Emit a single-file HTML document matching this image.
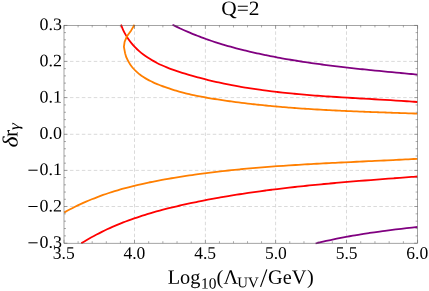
<!DOCTYPE html><html><head><meta charset="utf-8"><style>html,body{margin:0;padding:0;background:#fff}svg{display:block}text{font-family:"Liberation Serif",serif;fill:#000;text-rendering:geometricPrecision}svg{will-change:transform}</style></head><body>
<svg width="429" height="291" viewBox="0 0 429 291">
<rect width="429" height="291" fill="#fff"/>
<g stroke="#d0d0d0" stroke-width="0.8" stroke-dasharray="3.5 2.45" fill="none"><line x1="134.50" y1="25.40" x2="134.50" y2="243.20"/><line x1="205.40" y1="25.40" x2="205.40" y2="243.20"/><line x1="275.60" y1="25.40" x2="275.60" y2="243.20"/><line x1="346.50" y1="25.40" x2="346.50" y2="243.20"/><line x1="64.00" y1="61.40" x2="417.60" y2="61.40"/><line x1="64.00" y1="97.60" x2="417.60" y2="97.60"/><line x1="64.00" y1="134.30" x2="417.60" y2="134.30"/><line x1="64.00" y1="170.40" x2="417.60" y2="170.40"/><line x1="64.00" y1="206.50" x2="417.60" y2="206.50"/></g>
<g fill="none" stroke-width="1.8" stroke-linejoin="round">
<path d="M172.50 24.70 C173.14 25.02 175.04 25.98 176.32 26.61 C177.60 27.23 178.89 27.85 180.18 28.45 C181.46 29.05 182.76 29.64 184.05 30.22 C185.35 30.80 186.65 31.37 187.95 31.93 C189.25 32.50 190.56 33.05 191.87 33.59 C193.18 34.13 194.50 34.66 195.81 35.18 C197.13 35.70 198.45 36.21 199.78 36.71 C201.10 37.22 202.43 37.71 203.76 38.20 C205.09 38.68 206.43 39.16 207.76 39.62 C209.10 40.09 210.44 40.55 211.78 41.00 C213.12 41.45 214.47 41.89 215.82 42.33 C217.17 42.76 218.52 43.19 219.87 43.60 C221.23 44.02 222.58 44.43 223.94 44.84 C225.30 45.24 226.66 45.64 228.02 46.03 C229.39 46.41 230.75 46.80 232.12 47.17 C233.49 47.55 234.85 47.92 236.23 48.28 C237.60 48.64 238.97 49.00 240.35 49.35 C241.72 49.70 243.10 50.04 244.48 50.38 C245.86 50.71 247.24 51.05 248.62 51.37 C250.00 51.70 251.38 52.02 252.77 52.34 C254.15 52.65 255.54 52.96 256.92 53.27 C258.31 53.57 259.70 53.87 261.09 54.17 C262.48 54.47 263.87 54.76 265.26 55.04 C266.65 55.33 268.04 55.61 269.44 55.89 C270.83 56.17 272.22 56.44 273.62 56.71 C275.02 56.98 276.41 57.25 277.81 57.51 C279.21 57.77 280.60 58.02 282.00 58.28 C283.40 58.53 284.80 58.78 286.20 59.02 C287.60 59.27 289.01 59.51 290.41 59.75 C291.81 59.98 293.21 60.22 294.62 60.45 C296.02 60.68 297.43 60.90 298.83 61.12 C300.24 61.35 301.64 61.57 303.05 61.78 C304.46 62.00 305.86 62.21 307.27 62.42 C308.68 62.63 310.09 62.84 311.49 63.04 C312.90 63.24 314.31 63.44 315.72 63.64 C317.13 63.84 318.54 64.03 319.95 64.22 C321.36 64.41 322.78 64.60 324.19 64.79 C325.60 64.97 327.01 65.16 328.42 65.34 C329.83 65.52 331.25 65.69 332.66 65.87 C334.07 66.05 335.49 66.22 336.90 66.39 C338.31 66.56 339.73 66.73 341.14 66.90 C342.55 67.06 343.97 67.23 345.38 67.39 C346.80 67.55 348.21 67.71 349.63 67.87 C351.04 68.03 352.45 68.19 353.87 68.34 C355.28 68.50 356.70 68.65 358.11 68.80 C359.53 68.95 360.94 69.10 362.36 69.25 C363.77 69.40 365.19 69.55 366.60 69.69 C368.02 69.84 369.43 69.98 370.84 70.13 C372.26 70.27 373.67 70.41 375.09 70.55 C376.50 70.69 377.91 70.83 379.33 70.97 C380.74 71.11 382.15 71.25 383.57 71.39 C384.98 71.53 386.39 71.66 387.80 71.80 C389.22 71.93 390.63 72.07 392.04 72.20 C393.45 72.34 394.86 72.47 396.27 72.61 C397.69 72.74 399.10 72.87 400.51 73.01 C401.92 73.14 403.33 73.27 404.73 73.41 C406.14 73.54 407.55 73.67 408.96 73.80 C410.37 73.94 411.77 74.07 413.18 74.20 C414.59 74.33 416.70 74.53 417.40 74.60" stroke="#800080"/>
<path d="M315.60 243.50 C316.48 243.29 319.12 242.63 320.88 242.22 C322.65 241.80 324.41 241.39 326.18 240.99 C327.94 240.60 329.71 240.21 331.48 239.83 C333.25 239.45 335.03 239.08 336.80 238.72 C338.57 238.36 340.35 238.01 342.13 237.66 C343.90 237.32 345.68 236.98 347.46 236.66 C349.24 236.33 351.03 236.01 352.81 235.70 C354.59 235.38 356.38 235.08 358.16 234.78 C359.95 234.49 361.74 234.20 363.52 233.91 C365.31 233.63 367.10 233.35 368.89 233.08 C370.68 232.81 372.47 232.55 374.27 232.29 C376.06 232.03 377.85 231.78 379.64 231.53 C381.44 231.28 383.23 231.04 385.03 230.81 C386.82 230.57 388.62 230.34 390.42 230.11 C392.21 229.88 394.01 229.66 395.81 229.44 C397.61 229.22 399.41 229.01 401.20 228.80 C403.00 228.59 404.80 228.38 406.60 228.18 C408.40 227.98 410.20 227.78 412.00 227.58 C413.80 227.38 416.50 227.10 417.40 227.00" stroke="#800080"/>
<path d="M121.00 24.60 C121.33 25.43 122.23 27.97 122.97 29.61 C123.70 31.25 124.53 32.85 125.42 34.42 C126.32 35.98 127.29 37.51 128.32 38.99 C129.36 40.48 130.46 41.92 131.62 43.32 C132.77 44.71 133.99 46.06 135.25 47.36 C136.51 48.66 137.83 49.91 139.17 51.10 C140.52 52.29 141.92 53.43 143.34 54.51 C144.77 55.60 146.23 56.62 147.72 57.60 C149.20 58.59 150.73 59.51 152.27 60.40 C153.82 61.29 155.39 62.14 156.99 62.94 C158.58 63.75 160.21 64.52 161.84 65.25 C163.48 65.99 165.14 66.69 166.81 67.36 C168.48 68.03 170.17 68.67 171.86 69.30 C173.56 69.92 175.27 70.51 176.98 71.09 C178.69 71.67 180.42 72.23 182.14 72.78 C183.87 73.32 185.59 73.85 187.32 74.38 C189.05 74.90 190.79 75.41 192.52 75.90 C194.25 76.40 195.99 76.88 197.73 77.36 C199.47 77.83 201.21 78.29 202.96 78.74 C204.70 79.19 206.45 79.63 208.19 80.06 C209.94 80.48 211.69 80.90 213.44 81.31 C215.20 81.71 216.95 82.11 218.71 82.49 C220.46 82.88 222.22 83.25 223.98 83.62 C225.74 83.98 227.50 84.34 229.27 84.69 C231.03 85.03 232.80 85.37 234.56 85.70 C236.33 86.02 238.10 86.34 239.87 86.65 C241.64 86.96 243.41 87.26 245.19 87.55 C246.96 87.85 248.74 88.13 250.51 88.41 C252.29 88.68 254.07 88.95 255.85 89.21 C257.63 89.47 259.41 89.72 261.19 89.97 C262.97 90.22 264.75 90.45 266.54 90.68 C268.32 90.92 270.11 91.14 271.90 91.36 C273.68 91.58 275.47 91.79 277.26 91.99 C279.05 92.20 280.84 92.40 282.63 92.59 C284.42 92.78 286.21 92.97 288.00 93.15 C289.80 93.34 291.59 93.51 293.39 93.68 C295.18 93.86 296.97 94.02 298.77 94.18 C300.57 94.35 302.36 94.50 304.16 94.66 C305.96 94.81 307.76 94.96 309.55 95.10 C311.35 95.25 313.15 95.39 314.95 95.53 C316.75 95.66 318.55 95.80 320.35 95.93 C322.15 96.06 323.95 96.18 325.75 96.31 C327.55 96.43 329.35 96.55 331.15 96.67 C332.95 96.79 334.75 96.91 336.56 97.02 C338.36 97.14 340.16 97.25 341.96 97.36 C343.76 97.47 345.56 97.58 347.36 97.69 C349.17 97.80 350.97 97.90 352.77 98.01 C354.57 98.11 356.37 98.22 358.17 98.32 C359.97 98.42 361.77 98.53 363.57 98.63 C365.37 98.73 367.17 98.83 368.97 98.94 C370.77 99.04 372.57 99.14 374.37 99.25 C376.17 99.35 377.97 99.45 379.76 99.56 C381.56 99.66 383.36 99.77 385.15 99.87 C386.95 99.98 388.75 100.09 390.54 100.20 C392.34 100.31 394.13 100.42 395.92 100.53 C397.72 100.64 399.51 100.76 401.30 100.87 C403.09 100.99 404.88 101.11 406.67 101.23 C408.46 101.36 410.25 101.48 412.04 101.61 C413.83 101.74 416.51 101.94 417.40 102.00" stroke="#ff0000"/>
<path d="M81.30 243.30 C82.14 242.78 84.65 241.22 86.34 240.21 C88.03 239.21 89.74 238.23 91.45 237.28 C93.16 236.32 94.88 235.39 96.61 234.48 C98.34 233.57 100.08 232.69 101.83 231.82 C103.58 230.96 105.34 230.11 107.10 229.29 C108.87 228.47 110.64 227.67 112.42 226.89 C114.21 226.11 116.00 225.35 117.79 224.60 C119.59 223.86 121.40 223.14 123.21 222.43 C125.02 221.73 126.84 221.04 128.66 220.37 C130.49 219.70 132.32 219.05 134.16 218.41 C135.99 217.77 137.84 217.15 139.69 216.55 C141.54 215.94 143.39 215.35 145.25 214.77 C147.11 214.20 148.98 213.64 150.84 213.09 C152.71 212.54 154.59 212.01 156.47 211.48 C158.34 210.96 160.23 210.45 162.11 209.95 C164.00 209.45 165.89 208.97 167.78 208.49 C169.67 208.01 171.57 207.55 173.47 207.09 C175.36 206.63 177.27 206.19 179.17 205.75 C181.07 205.31 182.98 204.88 184.88 204.46 C186.79 204.04 188.70 203.62 190.61 203.22 C192.52 202.81 194.43 202.41 196.35 202.02 C198.26 201.62 200.17 201.24 202.09 200.86 C204.01 200.48 205.92 200.10 207.84 199.74 C209.76 199.37 211.68 199.01 213.60 198.66 C215.52 198.30 217.44 197.96 219.37 197.61 C221.29 197.27 223.21 196.94 225.14 196.61 C227.07 196.28 228.99 195.96 230.92 195.64 C232.85 195.32 234.78 195.01 236.71 194.70 C238.64 194.40 240.57 194.10 242.50 193.80 C244.43 193.51 246.36 193.22 248.30 192.93 C250.23 192.65 252.16 192.37 254.10 192.09 C256.03 191.82 257.97 191.55 259.91 191.28 C261.84 191.02 263.78 190.76 265.72 190.50 C267.66 190.25 269.60 189.99 271.53 189.75 C273.47 189.50 275.41 189.26 277.36 189.02 C279.30 188.78 281.24 188.55 283.18 188.32 C285.12 188.09 287.06 187.86 289.01 187.64 C290.95 187.42 292.89 187.20 294.84 186.99 C296.78 186.77 298.73 186.56 300.67 186.35 C302.62 186.15 304.56 185.94 306.51 185.74 C308.45 185.54 310.40 185.34 312.34 185.15 C314.29 184.95 316.24 184.76 318.18 184.57 C320.13 184.39 322.08 184.20 324.03 184.02 C325.97 183.83 327.92 183.65 329.87 183.48 C331.81 183.30 333.76 183.12 335.71 182.95 C337.66 182.78 339.60 182.60 341.55 182.44 C343.50 182.27 345.45 182.10 347.40 181.94 C349.34 181.77 351.29 181.61 353.24 181.45 C355.19 181.29 357.13 181.13 359.08 180.97 C361.03 180.81 362.98 180.65 364.92 180.50 C366.87 180.34 368.82 180.19 370.76 180.04 C372.71 179.89 374.65 179.73 376.60 179.58 C378.55 179.43 380.49 179.28 382.44 179.14 C384.38 178.99 386.33 178.84 388.27 178.69 C390.22 178.54 392.16 178.40 394.10 178.25 C396.05 178.10 397.99 177.96 399.93 177.81 C401.88 177.67 403.82 177.52 405.76 177.37 C407.70 177.23 409.64 177.08 411.58 176.94 C413.52 176.79 416.43 176.57 417.40 176.50" stroke="#ff0000"/>
<path d="M134.50 24.80 L131.20 30.40 L126.80 36.60 L124.60 41.80 L123.90 46.90 L125.10 53.20 L126.20 57.00 L128.30 61.30 L128.30 61.30 C128.57 61.75 129.34 63.11 129.90 63.97 C130.46 64.83 131.05 65.66 131.66 66.46 C132.28 67.26 132.92 68.03 133.59 68.77 C134.25 69.52 134.94 70.23 135.65 70.93 C136.37 71.62 137.10 72.28 137.86 72.93 C138.61 73.57 139.39 74.19 140.18 74.79 C140.97 75.38 141.78 75.96 142.61 76.51 C143.44 77.07 144.28 77.60 145.14 78.12 C146.00 78.64 146.87 79.14 147.75 79.62 C148.64 80.10 149.54 80.57 150.44 81.02 C151.35 81.47 152.27 81.90 153.19 82.33 C154.12 82.75 155.05 83.16 155.99 83.56 C156.93 83.96 157.88 84.34 158.83 84.72 C159.78 85.10 160.74 85.46 161.70 85.82 C162.66 86.18 163.62 86.54 164.58 86.88 C165.54 87.23 166.50 87.57 167.46 87.90 C168.43 88.23 169.39 88.55 170.36 88.87 C171.32 89.19 172.29 89.50 173.26 89.80 C174.23 90.11 175.20 90.41 176.17 90.70 C177.14 90.99 178.11 91.27 179.09 91.55 C180.06 91.82 181.04 92.09 182.02 92.36 C182.99 92.62 183.97 92.87 184.95 93.12 C185.93 93.37 186.91 93.61 187.90 93.85 C188.88 94.09 189.86 94.32 190.85 94.54 C191.83 94.76 192.82 94.98 193.81 95.19 C194.80 95.41 195.79 95.61 196.78 95.82 C197.77 96.02 198.76 96.21 199.75 96.41 C200.74 96.60 201.73 96.79 202.73 96.97 C203.72 97.16 204.71 97.34 205.71 97.51 C206.70 97.69 207.70 97.86 208.70 98.03 C209.69 98.20 210.69 98.36 211.69 98.53 C212.68 98.69 213.68 98.85 214.68 99.01 C215.68 99.17 216.68 99.33 217.68 99.48 C218.68 99.63 219.67 99.79 220.67 99.94 C221.67 100.09 222.67 100.23 223.67 100.38 C224.67 100.53 225.67 100.67 226.67 100.81 C227.68 100.96 228.68 101.10 229.68 101.24 C230.68 101.38 231.68 101.51 232.68 101.65 C233.68 101.78 234.69 101.92 235.69 102.05 C236.69 102.18 237.69 102.31 238.70 102.44 C239.70 102.57 240.70 102.70 241.70 102.82 C242.71 102.95 243.71 103.07 244.71 103.19 C245.72 103.31 246.72 103.43 247.73 103.55 C248.73 103.67 249.73 103.79 250.74 103.90 C251.74 104.02 252.75 104.13 253.75 104.24 C254.76 104.35 255.76 104.46 256.77 104.57 C257.78 104.68 258.78 104.79 259.79 104.89 C260.79 105.00 261.80 105.10 262.81 105.21 C263.81 105.31 264.82 105.41 265.82 105.51 C266.83 105.61 267.84 105.71 268.84 105.81 C269.85 105.90 270.86 106.00 271.87 106.09 C272.87 106.19 273.88 106.28 274.89 106.37 C275.90 106.46 276.90 106.55 277.91 106.64 C278.92 106.73 279.93 106.82 280.94 106.90 C281.95 106.99 282.95 107.07 283.96 107.16 C284.97 107.24 285.98 107.32 286.99 107.40 C288.00 107.49 289.01 107.57 290.02 107.64 C291.03 107.72 292.04 107.80 293.04 107.88 C294.05 107.95 295.06 108.03 296.07 108.10 C297.08 108.18 298.09 108.25 299.10 108.32 C300.11 108.39 301.12 108.46 302.13 108.53 C303.14 108.60 304.15 108.67 305.16 108.74 C306.17 108.81 307.19 108.87 308.20 108.94 C309.21 109.01 310.22 109.07 311.23 109.13 C312.24 109.20 313.25 109.26 314.26 109.32 C315.27 109.38 316.28 109.44 317.29 109.50 C318.31 109.56 319.32 109.62 320.33 109.68 C321.34 109.74 322.35 109.80 323.36 109.85 C324.37 109.91 325.38 109.96 326.40 110.02 C327.41 110.07 328.42 110.13 329.43 110.18 C330.44 110.23 331.45 110.29 332.47 110.34 C333.48 110.39 334.49 110.44 335.50 110.49 C336.51 110.54 337.52 110.59 338.54 110.64 C339.55 110.69 340.56 110.73 341.57 110.78 C342.58 110.83 343.60 110.88 344.61 110.92 C345.62 110.97 346.63 111.01 347.64 111.06 C348.66 111.10 349.67 111.15 350.68 111.19 C351.69 111.24 352.70 111.28 353.72 111.32 C354.73 111.36 355.74 111.41 356.75 111.45 C357.76 111.49 358.77 111.53 359.79 111.57 C360.80 111.61 361.81 111.65 362.82 111.69 C363.83 111.73 364.85 111.77 365.86 111.81 C366.87 111.85 367.88 111.89 368.89 111.92 C369.90 111.96 370.92 112.00 371.93 112.04 C372.94 112.08 373.95 112.11 374.96 112.15 C375.97 112.19 376.99 112.22 378.00 112.26 C379.01 112.30 380.02 112.33 381.03 112.37 C382.04 112.40 383.05 112.44 384.07 112.47 C385.08 112.51 386.09 112.54 387.10 112.58 C388.11 112.61 389.12 112.65 390.13 112.68 C391.14 112.72 392.15 112.75 393.16 112.79 C394.17 112.82 395.19 112.85 396.20 112.89 C397.21 112.92 398.22 112.96 399.23 112.99 C400.24 113.02 401.25 113.06 402.26 113.09 C403.27 113.12 404.28 113.16 405.29 113.19 C406.30 113.23 407.31 113.26 408.32 113.29 C409.33 113.33 410.34 113.36 411.35 113.40 C412.35 113.43 413.36 113.46 414.37 113.50 C415.38 113.53 416.90 113.58 417.40 113.60" stroke="#ff7f00"/>
<path d="M64.20 212.50 C65.10 212.00 67.78 210.49 69.59 209.53 C71.40 208.57 73.22 207.64 75.05 206.73 C76.87 205.83 78.71 204.95 80.56 204.09 C82.40 203.24 84.26 202.41 86.12 201.60 C87.98 200.79 89.86 200.01 91.74 199.25 C93.62 198.49 95.50 197.76 97.40 197.04 C99.30 196.33 101.20 195.63 103.11 194.96 C105.02 194.29 106.93 193.64 108.86 193.01 C110.78 192.37 112.71 191.76 114.65 191.17 C116.58 190.58 118.53 190.00 120.47 189.44 C122.42 188.89 124.37 188.35 126.33 187.82 C128.29 187.30 130.25 186.79 132.22 186.30 C134.19 185.81 136.16 185.33 138.14 184.87 C140.11 184.40 142.09 183.96 144.08 183.52 C146.06 183.08 148.05 182.66 150.04 182.25 C152.03 181.84 154.03 181.44 156.02 181.05 C158.02 180.67 160.02 180.29 162.02 179.92 C164.02 179.56 166.03 179.20 168.03 178.85 C170.04 178.50 172.04 178.16 174.05 177.83 C176.06 177.50 178.07 177.17 180.08 176.86 C182.09 176.54 184.10 176.23 186.11 175.92 C188.13 175.62 190.14 175.33 192.16 175.04 C194.17 174.75 196.19 174.46 198.20 174.19 C200.22 173.91 202.24 173.64 204.25 173.38 C206.27 173.11 208.29 172.86 210.31 172.61 C212.33 172.36 214.35 172.11 216.37 171.87 C218.40 171.63 220.42 171.40 222.44 171.17 C224.46 170.94 226.49 170.72 228.51 170.50 C230.54 170.29 232.56 170.08 234.59 169.87 C236.61 169.66 238.64 169.46 240.67 169.27 C242.70 169.07 244.72 168.88 246.75 168.69 C248.78 168.50 250.81 168.32 252.84 168.15 C254.87 167.97 256.90 167.79 258.93 167.63 C260.96 167.46 262.99 167.29 265.02 167.13 C267.05 166.97 269.08 166.81 271.12 166.66 C273.15 166.51 275.18 166.36 277.21 166.21 C279.25 166.06 281.28 165.92 283.31 165.78 C285.35 165.64 287.38 165.51 289.41 165.37 C291.45 165.24 293.48 165.11 295.51 164.98 C297.55 164.86 299.58 164.73 301.62 164.61 C303.65 164.49 305.69 164.37 307.72 164.25 C309.76 164.13 311.79 164.02 313.83 163.91 C315.86 163.79 317.90 163.68 319.93 163.57 C321.97 163.46 324.00 163.36 326.04 163.25 C328.07 163.15 330.11 163.04 332.14 162.94 C334.17 162.84 336.21 162.74 338.24 162.64 C340.28 162.54 342.31 162.44 344.35 162.34 C346.38 162.24 348.41 162.15 350.45 162.05 C352.48 161.95 354.51 161.86 356.55 161.76 C358.58 161.67 360.61 161.57 362.64 161.48 C364.68 161.38 366.71 161.29 368.74 161.19 C370.77 161.10 372.80 161.00 374.83 160.91 C376.87 160.81 378.90 160.72 380.93 160.62 C382.96 160.53 384.98 160.43 387.01 160.34 C389.04 160.24 391.07 160.14 393.10 160.04 C395.13 159.94 397.15 159.84 399.18 159.74 C401.21 159.64 403.23 159.54 405.26 159.44 C407.28 159.33 409.31 159.23 411.33 159.12 C413.35 159.02 416.39 158.85 417.40 158.80" stroke="#ff7f00"/>
</g>
<path d="M64.00 243.20v-3.40M64.00 25.40v3.40M78.10 243.20v-2.00M78.10 25.40v2.00M92.20 243.20v-2.00M92.20 25.40v2.00M106.30 243.20v-2.00M106.30 25.40v2.00M120.40 243.20v-2.00M120.40 25.40v2.00M134.50 243.20v-3.40M134.50 25.40v3.40M148.68 243.20v-2.00M148.68 25.40v2.00M162.86 243.20v-2.00M162.86 25.40v2.00M177.04 243.20v-2.00M177.04 25.40v2.00M191.22 243.20v-2.00M191.22 25.40v2.00M205.40 243.20v-3.40M205.40 25.40v3.40M219.44 243.20v-2.00M219.44 25.40v2.00M233.48 243.20v-2.00M233.48 25.40v2.00M247.52 243.20v-2.00M247.52 25.40v2.00M261.56 243.20v-2.00M261.56 25.40v2.00M275.60 243.20v-3.40M275.60 25.40v3.40M289.78 243.20v-2.00M289.78 25.40v2.00M303.96 243.20v-2.00M303.96 25.40v2.00M318.14 243.20v-2.00M318.14 25.40v2.00M332.32 243.20v-2.00M332.32 25.40v2.00M346.50 243.20v-3.40M346.50 25.40v3.40M360.72 243.20v-2.00M360.72 25.40v2.00M374.94 243.20v-2.00M374.94 25.40v2.00M389.16 243.20v-2.00M389.16 25.40v2.00M403.38 243.20v-2.00M403.38 25.40v2.00M417.60 243.20v-3.40M417.60 25.40v3.40M64.00 25.40h3.40M417.60 25.40h-3.40M64.00 32.60h2.00M417.60 32.60h-2.00M64.00 39.80h2.00M417.60 39.80h-2.00M64.00 47.00h2.00M417.60 47.00h-2.00M64.00 54.20h2.00M417.60 54.20h-2.00M64.00 61.40h3.40M417.60 61.40h-3.40M64.00 68.64h2.00M417.60 68.64h-2.00M64.00 75.88h2.00M417.60 75.88h-2.00M64.00 83.12h2.00M417.60 83.12h-2.00M64.00 90.36h2.00M417.60 90.36h-2.00M64.00 97.60h3.40M417.60 97.60h-3.40M64.00 104.94h2.00M417.60 104.94h-2.00M64.00 112.28h2.00M417.60 112.28h-2.00M64.00 119.62h2.00M417.60 119.62h-2.00M64.00 126.96h2.00M417.60 126.96h-2.00M64.00 134.30h3.40M417.60 134.30h-3.40M64.00 141.52h2.00M417.60 141.52h-2.00M64.00 148.74h2.00M417.60 148.74h-2.00M64.00 155.96h2.00M417.60 155.96h-2.00M64.00 163.18h2.00M417.60 163.18h-2.00M64.00 170.40h3.40M417.60 170.40h-3.40M64.00 177.62h2.00M417.60 177.62h-2.00M64.00 184.84h2.00M417.60 184.84h-2.00M64.00 192.06h2.00M417.60 192.06h-2.00M64.00 199.28h2.00M417.60 199.28h-2.00M64.00 206.50h3.40M417.60 206.50h-3.40M64.00 213.84h2.00M417.60 213.84h-2.00M64.00 221.18h2.00M417.60 221.18h-2.00M64.00 228.52h2.00M417.60 228.52h-2.00M64.00 235.86h2.00M417.60 235.86h-2.00M64.00 243.20h3.40M417.60 243.20h-3.40" stroke="#5a5a5a" stroke-width="0.5" fill="none"/>
<rect x="64.00" y="25.40" width="353.60" height="217.80" fill="none" stroke="#5a5a5a" stroke-width="0.55"/>
<text x="52.75" y="258.7" transform="rotate(0.05 64.00 258.7)" font-size="17.5" textLength="21.9" lengthAdjust="spacingAndGlyphs">3.5</text>
<text x="123.47" y="258.7" transform="rotate(0.05 134.72 258.7)" font-size="17.5" textLength="21.9" lengthAdjust="spacingAndGlyphs">4.0</text>
<text x="194.19" y="258.7" transform="rotate(0.05 205.44 258.7)" font-size="17.5" textLength="21.9" lengthAdjust="spacingAndGlyphs">4.5</text>
<text x="264.91" y="258.7" transform="rotate(0.05 276.16 258.7)" font-size="17.5" textLength="21.9" lengthAdjust="spacingAndGlyphs">5.0</text>
<text x="335.63" y="258.7" transform="rotate(0.05 346.88 258.7)" font-size="17.5" textLength="21.9" lengthAdjust="spacingAndGlyphs">5.5</text>
<text x="406.35" y="258.7" transform="rotate(0.05 417.60 258.7)" font-size="17.5" textLength="21.9" lengthAdjust="spacingAndGlyphs">6.0</text>
<text x="39.55" y="29.90" transform="rotate(0.05 50 29.90)" font-size="17.5" textLength="22.4" lengthAdjust="spacingAndGlyphs">0.3</text>
<text x="39.55" y="66.20" transform="rotate(0.05 50 66.20)" font-size="17.5" textLength="22.4" lengthAdjust="spacingAndGlyphs">0.2</text>
<text x="39.55" y="102.50" transform="rotate(0.05 50 102.50)" font-size="17.5" textLength="22.4" lengthAdjust="spacingAndGlyphs">0.1</text>
<text x="39.55" y="138.80" transform="rotate(0.05 50 138.80)" font-size="17.5" textLength="22.4" lengthAdjust="spacingAndGlyphs">0.0</text>
<text x="39.55" y="175.10" transform="rotate(0.05 50 175.10)" font-size="17.5" textLength="22.4" lengthAdjust="spacingAndGlyphs">0.1</text>
<line x1="28.4" x2="37.6" y1="170.20" y2="170.20" stroke="#000" stroke-width="1.05"/>
<text x="39.55" y="211.40" transform="rotate(0.05 50 211.40)" font-size="17.5" textLength="22.4" lengthAdjust="spacingAndGlyphs">0.2</text>
<line x1="28.4" x2="37.6" y1="206.50" y2="206.50" stroke="#000" stroke-width="1.05"/>
<text x="39.55" y="247.70" transform="rotate(0.05 50 247.70)" font-size="17.5" textLength="22.4" lengthAdjust="spacingAndGlyphs">0.3</text>
<line x1="28.4" x2="37.6" y1="242.80" y2="242.80" stroke="#000" stroke-width="1.05"/>
<text x="221.3" y="14.9" transform="rotate(0.05 240 14.9)" font-size="20.3" textLength="38.3" lengthAdjust="spacingAndGlyphs">Q=2</text>
<text x="167.70" y="283.70" transform="rotate(0.05 167.70 283.70)" font-size="20.3">Log</text>
<text x="201.00" y="288.60" transform="rotate(0.05 201.00 288.60)" font-size="15.4">10</text>
<text x="216.60" y="284.10" transform="rotate(0.05 216.60 284.10)" font-size="20.3">(</text>
<text x="223.40" y="283.70" transform="rotate(0.05 223.40 283.70)" font-size="20.3">Λ</text>
<text x="237.30" y="287.20" transform="rotate(0.05 237.30 287.20)" font-size="14.8">UV</text>
<text x="268.00" y="283.70" transform="rotate(0.05 268.00 283.70)" font-size="20.3">GeV</text>
<text x="306.90" y="283.70" transform="rotate(0.05 306.90 283.70)" font-size="20.3">)</text>
<line x1="260.55" y1="286.9" x2="266.85" y2="269.4" stroke="#000" stroke-width="1.15"/>
<text transform="translate(17.4 147.5) rotate(-89.95) scale(1.1 1)" font-size="21.5" font-style="italic">δ</text>
<text transform="translate(17.4 137.0) rotate(-89.95)" font-size="21.5">r</text>
<text transform="translate(19.2 130.1) rotate(-89.95) scale(1.15 1)" font-size="15" font-style="italic">γ</text>
</svg></body></html>
